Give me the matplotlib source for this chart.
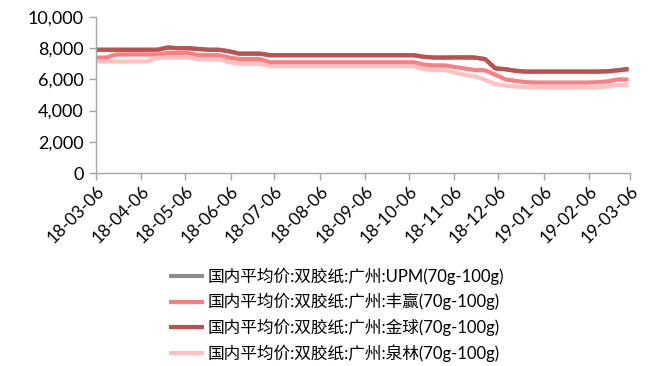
import matplotlib
matplotlib.use("Agg")
import matplotlib.pyplot as plt
import matplotlib.dates as mdates
from matplotlib.ticker import FuncFormatter, MultipleLocator
import pandas as pd

plt.rcParams['font.family'] = ['Lato', 'Noto Sans CJK SC', 'DejaVu Sans']

# weekly observations
dates = pd.date_range("2018-03-06", periods=53, freq="7D")

upm = [7900, 7900, 7900, 7900, 7900, 7900, 7900, 8030, 8000, 8000,
       7950, 7900, 7900, 7800, 7650, 7650, 7650, 7550, 7550, 7550,
       7550, 7550, 7550, 7550, 7550, 7550, 7550, 7550, 7550, 7550,
       7550, 7550, 7450, 7400, 7400, 7420, 7420, 7400, 7300, 6720,
       6650, 6550, 6500, 6500, 6500, 6500, 6500, 6500, 6500, 6500,
       6520, 6600, 6680]

fengying = [7400, 7400, 7600, 7600, 7600, 7600, 7600, 7700, 7700, 7700,
            7550, 7550, 7550, 7400, 7300, 7300, 7300, 7100, 7100, 7100,
            7100, 7100, 7100, 7100, 7100, 7100, 7100, 7100, 7100, 7100,
            7100, 7100, 6950, 6900, 6900, 6800, 6700, 6600, 6580, 6300,
            6000, 5900, 5820, 5800, 5800, 5800, 5800, 5800, 5800, 5820,
            5880, 6000, 6000]

jinqiu = [7900, 7900, 7900, 7900, 7900, 7900, 7900, 8050, 8000, 8000,
          7950, 7900, 7900, 7800, 7650, 7650, 7650, 7550, 7550, 7550,
          7550, 7550, 7550, 7550, 7550, 7550, 7550, 7550, 7550, 7550,
          7550, 7550, 7450, 7400, 7400, 7400, 7400, 7400, 7300, 6700,
          6650, 6550, 6500, 6500, 6500, 6500, 6500, 6500, 6500, 6500,
          6520, 6580, 6650]

quanlin = [7150, 7150, 7150, 7150, 7150, 7150, 7400, 7400, 7400, 7400,
           7300, 7300, 7300, 7100, 7000, 7000, 7000, 6850, 6850, 6850,
           6850, 6850, 6850, 6850, 6850, 6850, 6850, 6850, 6850, 6850,
           6850, 6850, 6650, 6600, 6600, 6450, 6300, 6200, 5980, 5700,
           5600, 5550, 5500, 5500, 5500, 5500, 5500, 5500, 5500, 5520,
           5560, 5650, 5650]

labels = [
    "国内平均价:双胶纸:广州:UPM(70g-100g)",
    "国内平均价:双胶纸:广州:丰赢(70g-100g)",
    "国内平均价:双胶纸:广州:金球(70g-100g)",
    "国内平均价:双胶纸:广州:泉林(70g-100g)",
]
colors = ["#8C8C8C", "#FF7C80", "#C0504D", "#FFC0C0"]
series = [upm, fengying, jinqiu, quanlin]

fig = plt.figure(figsize=(6.67, 3.66), dpi=100)
ax = fig.add_axes([0.1439, 0.5273, 0.8006, 0.4263])

handles = []
for vals, lab, col in zip(series, labels, colors):
    h, = ax.plot(dates, vals, color=col, lw=3.0, label=lab, solid_capstyle="butt")
    handles.append(h)

ax.set_ylim(0, 10000)
ax.yaxis.set_major_locator(MultipleLocator(2000))
ax.yaxis.set_major_formatter(FuncFormatter(lambda v, p: f"{int(v):,}"))
ax.set_xlim(pd.Timestamp("2018-03-06"), pd.Timestamp("2019-03-06"))
ax.xaxis.set_major_locator(mdates.MonthLocator(bymonthday=6))
ax.xaxis.set_major_formatter(mdates.DateFormatter("%y-%m-%d"))

for s in ["top", "right"]:
    ax.spines[s].set_visible(False)
for s in ["left", "bottom"]:
    ax.spines[s].set_color("#A6A6A6")
    ax.spines[s].set_linewidth(1.0)

ax.tick_params(axis="both", colors="#A6A6A6", labelcolor="black", length=5, width=1)
ax.tick_params(axis="y", labelsize=13, pad=4)
ax.tick_params(axis="x", labelsize=12.5, pad=2)
for t in ax.get_xticklabels():
    t.set_rotation(45)
    t.set_ha("right")
    t.set_va("top")
    t.set_rotation_mode("anchor")

fig.legend(handles=handles, labels=labels, loc="upper left",
           bbox_to_anchor=(0.2415, 0.292), frameon=False,
           prop={"size": 12}, handlelength=2.1, handletextpad=0.2,
           labelspacing=0.5, borderpad=0)

fig.savefig("out.png", dpi=100)
